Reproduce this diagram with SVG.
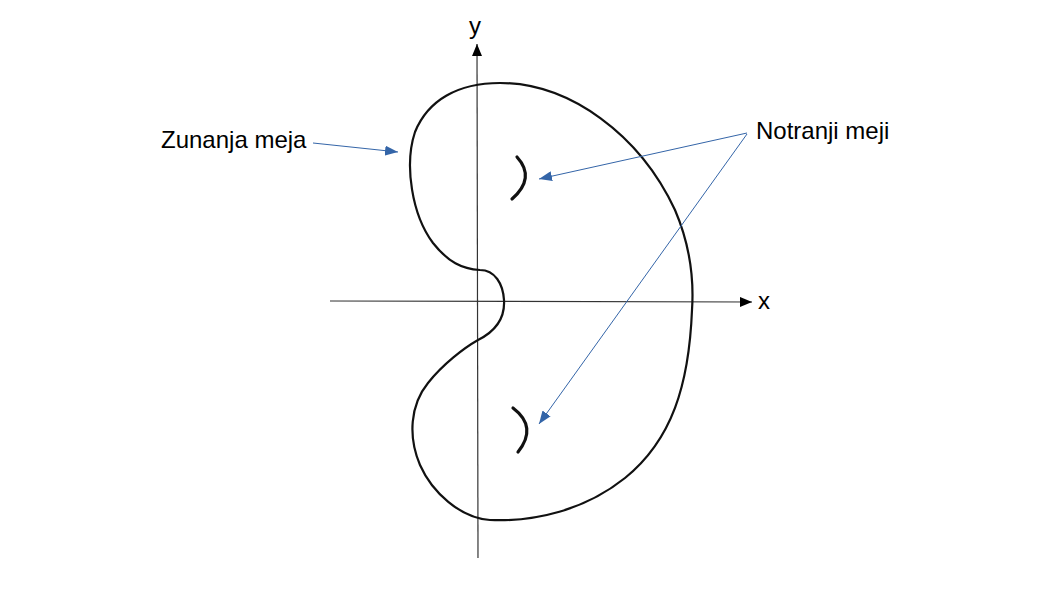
<svg xmlns="http://www.w3.org/2000/svg" width="1058" height="595" viewBox="0 0 1058 595">
<defs>
<marker id="ax" markerWidth="12" markerHeight="10" refX="12" refY="5" orient="auto" markerUnits="userSpaceOnUse"><path d="M0,0 L12,5 L0,10 Z" fill="#000"/></marker>
<marker id="bl" markerWidth="13" markerHeight="10" refX="13" refY="5" orient="auto" markerUnits="userSpaceOnUse"><path d="M0,0 L13,5 L0,10 Z" fill="#3465a8"/></marker>
</defs>
<style>
.axis{stroke:#333;stroke-width:1.2;fill:none}
.bnd{stroke:#111;stroke-width:2.2;fill:none}
.inner{stroke:#111;stroke-width:3.2;fill:none;stroke-linecap:round}
.lead{stroke:#3465a8;stroke-width:1;fill:none}
text{font-family:"Liberation Sans",Arial,sans-serif;font-size:24px;fill:#000}
</style>
<g id="axes">
<line class="axis" x1="330" y1="301" x2="752" y2="302" marker-end="url(#ax)"/>
<line class="axis" x1="478" y1="558" x2="477" y2="44" marker-end="url(#ax)"/>
<text x="469" y="34">y</text>
<text x="758" y="309">x</text>
</g>
<g id="outer">
<path class="bnd" d="M480,270 C462,269 448,262 433,243 C412,215 404,165 415,132 C428,100 458,83 500,83 C570,83 640,135 675,210 C690,245 694,280 692,310 C689,385 672,440 625,478 C585,510 535,522 490,520 C460,518 432,492 420,465 C408,437 410,405 428,383 C443,364 464,348 478,340 C498,330 505,316 504,300 C503,284 495,270 480,270 Z"/>
</g>
<g id="inner1"><path class="inner" d="M517,157 Q536,178 512,199"/></g>
<g id="inner2"><path class="inner" d="M513,408 Q538,427 518,452"/></g>
<g id="label-outer"><text x="161" y="148">Zunanja meja</text></g>
<g id="label-inner"><text x="756" y="139">Notranji meji</text></g>
<g id="connectors">
<line class="lead" x1="313" y1="143" x2="398" y2="152" marker-end="url(#bl)"/>
<line class="lead" x1="747" y1="133" x2="539" y2="179" marker-end="url(#bl)"/>
<line class="lead" x1="747" y1="134" x2="539" y2="424" marker-end="url(#bl)"/>
</g>
</svg>
